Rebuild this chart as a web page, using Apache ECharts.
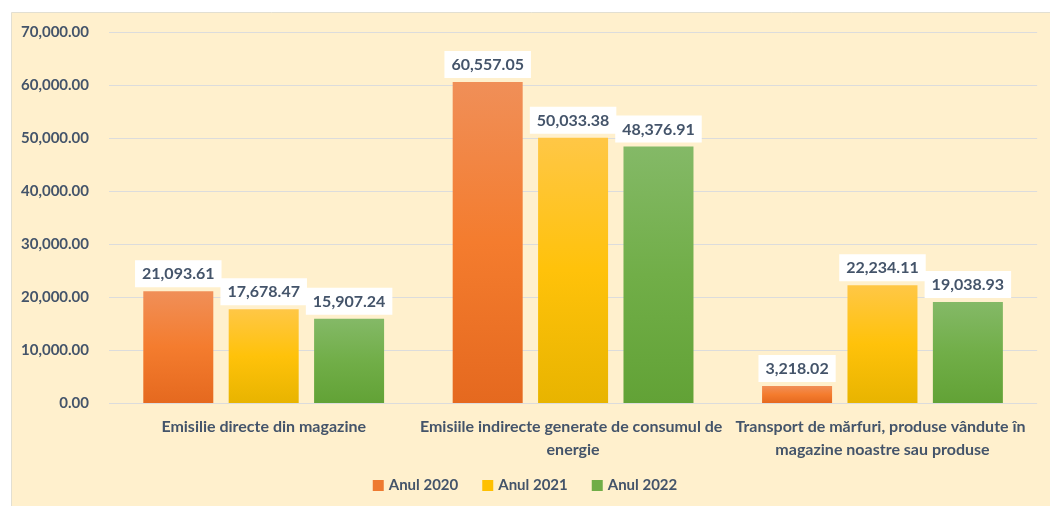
<!DOCTYPE html>
<html>
<head>
<meta charset="utf-8">
<script src="https://cdn.jsdelivr.net/npm/echarts@6/dist/echarts.min.js"></script>
<style>
  html, body { margin: 0; padding: 0; background: #fff; }
  #chart { width: 1050px; height: 506px; }
</style>
</head>
<body>
<div id="chart"></div>
<script>
// data
var categories = [
  "Emisilie directe din magazine",
  "Emisiile indirecte generate de consumul de energie",
  "Transport de mărfuri, produse vândute în magazine noastre sau produse"
];
var seriesNames = ["Anul 2020", "Anul 2021", "Anul 2022"];
var anul2020 = [21093.61, 60557.05, 3218.02];
var anul2021 = [17678.47, 50033.38, 22234.11];
var anul2022 = [15907.24, 48376.91, 19038.93];

var textColor = "#44546A";
var font = "Lato";

function fmt(v) {
  return v.toLocaleString("en-US", { minimumFractionDigits: 2, maximumFractionDigits: 2 });
}

function grad(top, mid, bottom) {
  return new echarts.graphic.LinearGradient(0, 0, 0, 1, [
    { offset: 0, color: top },
    { offset: 0.5, color: mid },
    { offset: 1, color: bottom }
  ]);
}

var colors = [
  grad("#F08F58", "#F47C2E", "#E5691F"),
  grad("#FFC746", "#FFC20A", "#E8B400"),
  grad("#84B967", "#71AE48", "#62A236")
];
var legendColors = ["#EE7A30", "#FFC000", "#70AD47"];

function makeSeries(name, data, i) {
  return {
    name: name,
    type: "bar",
    data: data,
    barWidth: 70,
    barGap: "22%",
    itemStyle: { color: colors[i] },
    label: {
      show: true,
      position: "top",
      distance: 4,
      formatter: function (p) { return fmt(p.value); },
      backgroundColor: "#fff",
      padding: [6, 7, 5, 7],
      color: textColor,
      fontFamily: font,
      fontWeight: "bold",
      fontSize: 16
    }
  };
}

var chart = echarts.init(document.getElementById("chart"));

var option = {
  backgroundColor: "#fff",
  animation: false,
  graphic: [{
    type: "rect",
    z: -10,
    shape: { x: 11.5, y: 12.5, width: 1045, height: 500 },
    style: { fill: "#FFF0CD", stroke: "#E2DFD2", lineWidth: 1 }
  }],
  color: legendColors,
  grid: { left: 109, right: 10, top: 32, bottom: 103 },
  legend: {
    bottom: 8,
    itemWidth: 11,
    itemHeight: 11,
    itemGap: 24,
    icon: "rect",
    textStyle: { color: textColor, fontFamily: font, fontWeight: "bold", fontSize: 15 },
    data: seriesNames.map(function (n, i) {
      return { name: n, itemStyle: { color: legendColors[i] } };
    })
  },
  xAxis: {
    type: "category",
    data: categories,
    axisLine: { show: false },
    axisTick: { show: false },
    axisLabel: {
      color: textColor,
      fontFamily: font,
      fontWeight: "bold",
      fontSize: 16,
      lineHeight: 23,
      margin: 12,
      width: 330,
      overflow: "break",
      interval: 0
    }
  },
  yAxis: {
    type: "value",
    min: 0,
    max: 70000,
    interval: 10000,
    axisLabel: {
      color: textColor,
      fontFamily: font,
      fontWeight: "bold",
      fontSize: 15,
      margin: 20,
      formatter: function (v) { return fmt(v); }
    },
    splitLine: { lineStyle: { color: "#DCDCDC", width: 1 } }
  },
  series: [
    makeSeries(seriesNames[0], anul2020, 0),
    makeSeries(seriesNames[1], anul2021, 1),
    makeSeries(seriesNames[2], anul2022, 2)
  ]
};

chart.setOption(option);
</script>
</body>
</html>
